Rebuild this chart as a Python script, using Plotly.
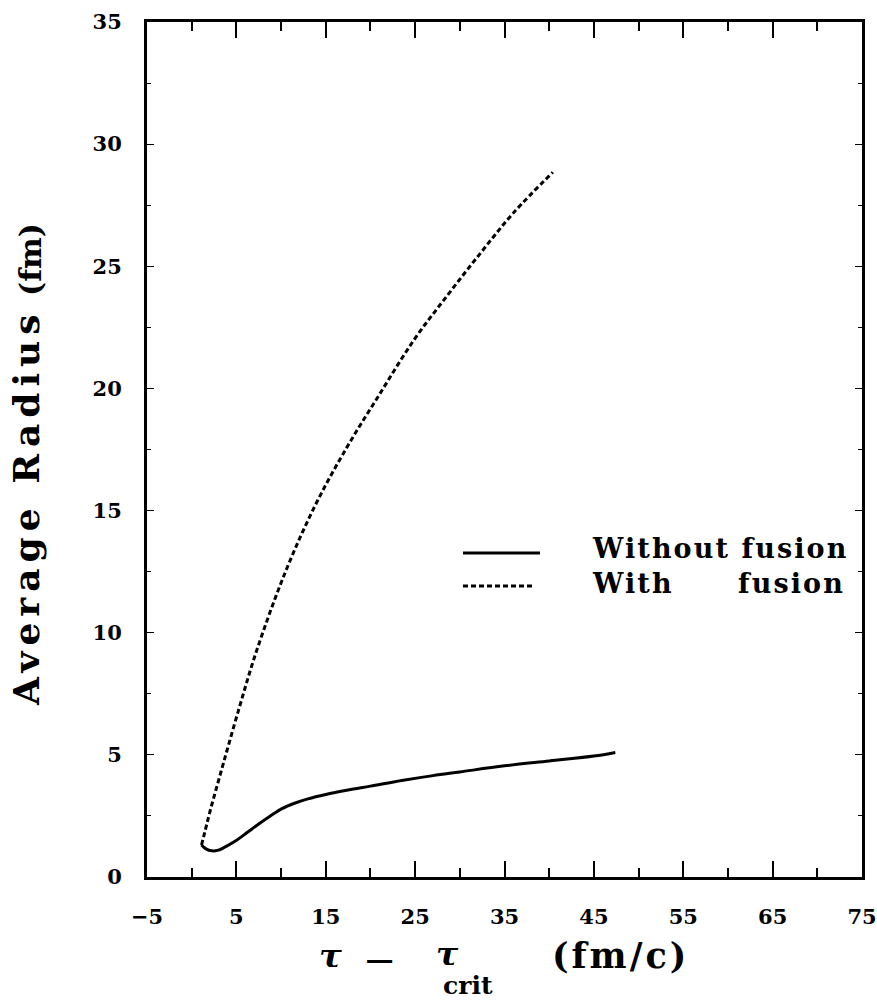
import plotly.graph_objects as go

# --- data ---
without_x = [1.1, 1.6, 2.25, 3.0, 3.6, 4.8, 6.2, 7.5, 8.8, 10.1, 11.5, 13.0, 15.0, 17.5, 20.0, 23.5,
             27.0, 30.0, 35.0, 40.0, 45.0, 47.4]
without_y = [1.31, 1.15, 1.07, 1.1, 1.2, 1.45, 1.82, 2.17, 2.5, 2.8, 3.02, 3.2, 3.38, 3.56, 3.72, 3.95,
             4.15, 4.3, 4.55, 4.75, 4.95, 5.1]

with_x = [1.1, 1.47, 2.03, 3.03, 5.3, 7.3, 10.5, 13.8, 17.3, 21.0, 24.9, 28.7, 32.38, 36.06, 40.41]
with_y = [1.31, 1.84, 2.66, 3.98, 6.9, 9.3, 12.5, 15.2, 17.55, 19.75, 22.0, 23.85, 25.57, 27.21, 28.85]

x_range = [-5, 75]
y_range = [0, 35]

SERIF = "DejaVu Serif"

fig = go.Figure()
fig.add_trace(go.Scatter(x=without_x, y=without_y, mode="lines", line=dict(color="black", width=3, shape="spline"),
                         name="Without fusion", showlegend=False))
fig.add_trace(go.Scatter(x=with_x, y=with_y, mode="lines", line=dict(color="black", width=3, dash="5px,3px", shape="spline"),
                         name="With fusion", showlegend=False))

tickfont = dict(family=SERIF, size=21, color="black", weight="bold")

fig.update_xaxes(range=x_range, tick0=-5, dtick=10, ticks="inside", ticklen=16, tickwidth=1.5, tickcolor="black",
                 showline=True, linewidth=3, linecolor="black", mirror="ticks", showgrid=False, zeroline=False,
                 tickfont=tickfont, ticklabelstandoff=19, automargin=False,
                 minor=dict(tick0=0, dtick=5, ticks="inside", ticklen=9, tickwidth=1.5, tickcolor="black", showgrid=False))
fig.update_yaxes(range=y_range, tick0=0, dtick=5, ticks="inside", ticklen=7, tickwidth=1, tickcolor="black",
                 showline=True, linewidth=3, linecolor="black", mirror="ticks", showgrid=False, zeroline=False,
                 tickfont=tickfont, ticklabelstandoff=18, automargin=False,
                 minor=dict(tick0=0, dtick=2.5, ticks="inside", ticklen=4, tickwidth=1, tickcolor="black", showgrid=False))

annotations = []
# y-axis title
annotations.append(dict(text='<span style="letter-spacing:6px">Average Radius</span>', x=26, y=507,
                        textangle=-90, font=dict(family=SERIF, size=36, color="black", weight="bold")))
annotations.append(dict(text='(fm)', x=30, y=260,
                        textangle=-90, font=dict(family=SERIF, size=30, color="black", weight="bold")))
# x-axis title
annotations.append(dict(text='<i>τ</i>', x=330, y=956, height=22, font=dict(family=SERIF, size=34, color="black", weight="bold")))
annotations.append(dict(text='−', x=380, y=960, height=22, font=dict(family=SERIF, size=40, color="black")))
annotations.append(dict(text='<i>τ</i>', x=447, y=954, height=22, font=dict(family=SERIF, size=33, color="black", weight="bold")))
annotations.append(dict(text='crit', x=468, y=985, height=20, font=dict(family=SERIF, size=25, color="black", weight="bold")))
annotations.append(dict(text='<span style="letter-spacing:3px">(fm/c)</span>', x=620, y=955,
                        font=dict(family=SERIF, size=35, color="black", weight="bold")))
# legend text
annotations.append(dict(text='<span style="letter-spacing:2.1px">Without fusion</span>', x=590, y=548, xanchor="left",
                        font=dict(family=SERIF, size=27, color="black", weight="bold")))
annotations.append(dict(text='<span style="letter-spacing:2.1px">With</span>', x=590, y=583, xanchor="left",
                        font=dict(family=SERIF, size=27, color="black", weight="bold")))
annotations.append(dict(text='<span style="letter-spacing:2.1px">fusion</span>', x=847, y=583, xanchor="right",
                        font=dict(family=SERIF, size=27, color="black", weight="bold")))

W, H = 877, 1000
L, R, T, B = 147, 15, 22, 123
pw, ph = W - L - R, H - T - B

# positions given in figure pixels -> plot-domain paper coords
for a in annotations:
    a["x"] = (a["x"] - L) / pw
    a["y"] = (H - B - a["y"]) / ph
    a["xref"] = "paper"
    a["yref"] = "paper"
    a["showarrow"] = False
    a.setdefault("xanchor", "center")
    a["yanchor"] = "middle"

def px_line(x0, x1, y, dash=None):
    ln = dict(color="black", width=3)
    if dash:
        ln["dash"] = dash
    return dict(type="line", xref="paper", yref="paper",
                x0=(x0 - L) / pw, x1=(x1 - L) / pw, y0=(H - B - y) / ph, y1=(H - B - y) / ph, line=ln)

shapes = [px_line(463, 540, 553), px_line(463, 535, 586, "5px,3px")]

fig.update_layout(width=W, height=H, margin=dict(l=L, r=R, t=T, b=B, autoexpand=False),
                  plot_bgcolor="white", paper_bgcolor="white",
                  annotations=annotations, shapes=shapes, showlegend=False)

fig.write_html("out.html", config={"displayModeBar": False},
               post_script="document.body.style.margin='0px';")
